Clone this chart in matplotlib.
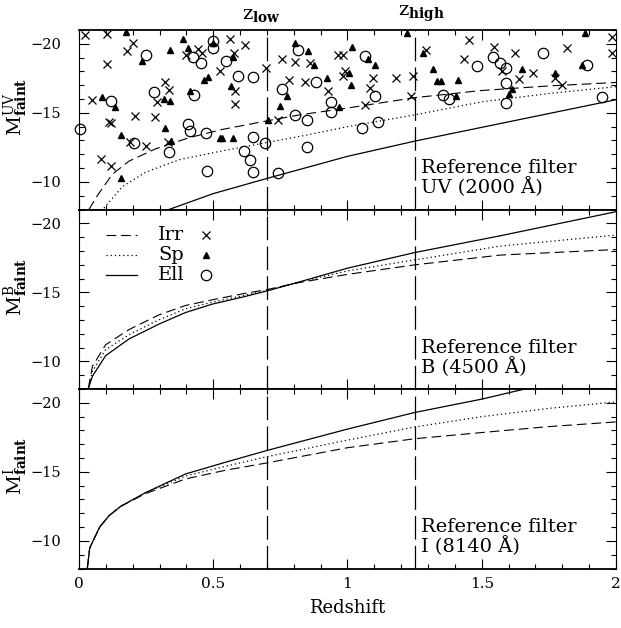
import matplotlib
matplotlib.use('Agg')
import matplotlib.pyplot as plt
from matplotlib.ticker import MultipleLocator, FixedLocator

plt.rcParams['font.family'] = ['DejaVu Serif']
plt.rcParams['mathtext.fontset'] = 'dejavuserif'
plt.rcParams['lines.scale_dashes'] = False

# ---------------- data ----------------
z_low, z_high = 0.7, 1.25

# UV panel limit curves
uv_irr_z = [0.037, 0.068, 0.124, 0.186, 0.286, 0.41, 0.534, 0.695, 0.82, 1.0, 1.25, 1.5, 1.75, 2.0]
uv_irr_m = [-8.0, -9.0, -10.55, -11.5, -12.4, -13.2, -13.8, -14.4, -14.85, -15.35, -16.1, -16.62, -16.95, -17.2]
uv_sp_z = [0.093, 0.161, 0.248, 0.372, 0.521, 0.7, 0.85, 1.0, 1.25, 1.5, 1.75, 2.0]
uv_sp_m = [-8.1, -9.65, -10.7, -11.6, -12.2, -12.85, -13.4, -14.0, -14.85, -15.8, -16.4, -16.9]
uv_ell_z = [0.335, 0.5, 0.7, 1.0, 1.25, 1.5, 1.75, 2.0]
uv_ell_m = [-8.0, -9.15, -10.25, -11.85, -12.95, -13.95, -14.95, -15.95]

# B panel limit curves
b_z = [0.035, 0.05, 0.099, 0.186, 0.298, 0.397, 0.497, 0.608, 0.7, 0.82, 1.0, 1.25, 1.57, 2.0]
b_irr_m = [-8.05, -9.64, -11.2, -12.3, -13.37, -14.05, -14.46, -14.89, -15.2, -15.71, -16.3, -16.99, -17.7, -18.1]
b_sp_m = [-8.05, -9.28, -10.85, -11.93, -13.01, -13.81, -14.29, -14.75, -15.13, -15.75, -16.55, -17.35, -18.35, -19.15]
b_ell_m = [-8.05, -8.92, -10.41, -11.62, -12.7, -13.54, -14.15, -14.65, -15.1, -15.75, -16.75, -17.88, -19.1, -20.84]

# I panel limit curves
i_z = [0.031, 0.04, 0.077, 0.112, 0.155, 0.248, 0.397, 0.546, 0.7, 1.0, 1.25, 1.5, 1.75, 2.0]
i_irr_m = [-8.0, -9.49, -11.0, -11.83, -12.5, -13.43, -14.49, -15.12, -15.65, -16.75, -17.4, -17.85, -18.28, -18.62]
i_sp_m = [-8.0, -9.49, -11.0, -11.83, -12.5, -13.48, -14.7, -15.41, -16.1, -17.3, -18.25, -19.0, -19.6, -20.07]
i_ell_z = [0.031, 0.04, 0.077, 0.112, 0.155, 0.248, 0.397, 0.546, 0.7, 1.0, 1.25, 1.5, 1.66]
i_ell_m = [-8.0, -9.49, -11.0, -11.83, -12.5, -13.5, -14.85, -15.7, -16.55, -18.1, -19.3, -20.27, -21.0]

# galaxies (UV panel)
irr_z = [0.022, 0.103, 0.202, 0.18, 0.103, 0.05, 0.113, 0.12, 0.209, 0.283, 0.082, 0.119, 0.19, 0.248,
         0.32, 0.335, 0.292, 0.33, 0.398, 0.444, 0.46,
         0.562, 0.618, 0.577, 0.525, 0.581, 0.581, 0.696, 0.755, 0.804, 0.86, 0.783, 0.842, 0.929,
         0.966, 0.982, 0.991, 0.984, 0.742,
         1.096, 1.179, 1.245, 1.084, 1.065, 1.237, 1.291, 1.452, 1.435,
         1.546, 1.624, 1.816, 1.984, 1.984, 1.574, 1.64, 1.69, 1.773, 1.798]
irr_m = [-20.65, -20.74, -20.09, -19.49, -18.53, -15.92, -14.36, -14.3, -14.8, -14.67, -11.66, -11.18, -12.87, -12.63,
         -17.2, -16.65, -15.76, -12.87, -19.2, -19.6, -19.35,
         -20.33, -19.93, -19.37, -18.05, -16.6, -15.64, -18.24, -18.89, -18.65, -18.58, -17.37, -17.2, -16.6,
         -19.2, -19.2, -18.05, -17.69, -14.48,
         -17.56, -17.51, -17.69, -16.79, -15.59, -16.19, -19.54, -20.29, -18.89,
         -19.78, -19.37, -19.68, -20.46, -19.3, -18.05, -17.44, -17.92, -17.51, -17.04]

sp_z = [0.174, 0.233, 0.084, 0.134, 0.156, 0.155, 0.338, 0.389, 0.407, 0.318, 0.339, 0.32, 0.344, 0.413, 0.466, 0.482,
        0.5, 0.575, 0.565, 0.525, 0.533, 0.572, 0.705, 0.749, 0.773, 0.804, 0.854, 0.875, 0.925, 0.97, 1.007, 1.012,
        1.016, 1.075, 1.102, 1.22, 1.282, 1.32, 1.332, 1.347, 1.41, 1.404,
        1.885, 1.651, 1.773, 1.614, 1.6, 1.872]
sp_m = [-20.89, -18.72, -16.17, -15.45, -13.42, -10.29, -19.54, -20.33, -19.73, -16.0, -15.83, -13.88, -12.99, -16.6, -17.37, -17.62,
        -20.05, -19.01, -16.97, -13.16, -13.16, -13.16, -14.48, -15.47, -16.24, -20.09, -19.49, -18.48, -17.51, -15.45, -17.9, -17.0,
        -19.8, -18.89, -18.48, -20.82, -19.3, -18.17, -17.33, -17.33, -17.4, -16.24,
        -20.77, -18.2, -17.88, -16.72, -16.4, -18.49]

ell_z = [0.004, 0.119, 0.206, 0.25, 0.28, 0.336, 0.405, 0.413, 0.429, 0.472, 0.476, 0.423, 0.453, 0.5, 0.498,
         0.548, 0.594, 0.649, 0.817, 0.755, 0.883, 0.937, 0.937, 0.804, 0.848, 0.649, 0.693, 0.616, 0.637, 0.647, 0.742, 0.85,
         1.065, 1.102, 1.115, 1.053, 1.354, 1.379, 1.483,
         1.541, 1.568, 1.59, 1.729, 1.893, 1.59, 1.59, 1.947]
ell_m = [-13.83, -15.83, -12.8, -19.2, -16.48, -12.15, -14.19, -13.71, -16.32, -13.54, -10.82, -19.06, -18.58, -20.17, -19.73,
         -18.77, -17.69, -17.62, -19.54, -16.72, -17.2, -15.76, -15.04, -14.87, -14.48, -13.23, -12.8, -12.22, -11.55, -10.75, -10.63, -12.56,
         -19.13, -16.19, -14.36, -13.9, -16.29, -16.0, -18.41,
         -19.08, -18.58, -18.28, -19.35, -18.49, -17.13, -15.72, -16.17]

xtick_vals = [0, 0.5, 1, 1.5, 2]
xtick_labels = ['0', '0.5', '1', '1.5', '2']
ytick_vals = [-10, -15, -20]
ytick_labels = ['\u221210', '\u221215', '\u221220']

ylabels = [r'$\mathrm{M}^{\mathrm{UV}}_{\mathbf{faint}}$',
           r'$\mathrm{M}^{\mathrm{B}}_{\mathbf{faint}}$',
           r'$\mathrm{M}^{\mathrm{I}}_{\mathbf{faint}}$']
filter_texts = ['Reference filter\nUV (2000 \u00c5)',
                'Reference filter\nB (4500 \u00c5)',
                'Reference filter\nI (8140 \u00c5)']
legend_names = ['Irr', 'Sp', 'Ell']

# ---------------- styles ----------------
irr_style = dict(color='black', lw=0.8, dashes=(7, 3.5))
sp_style = dict(color='black', lw=0.9, dashes=(0.9, 2.1))
ell_style = dict(color='black', lw=0.9)
vline_style = dict(color='black', lw=0.9, dashes=(17, 4.5))

fig = plt.figure(figsize=(6.21, 6.28), dpi=100)
L, W, H = 0.1272, 0.8647, 0.2858
bottoms = [0.6664, 0.3806, 0.0947]
axes = [fig.add_axes([L, b, W, H]) for b in bottoms]

curves = [
    [(uv_irr_z, uv_irr_m, irr_style), (uv_sp_z, uv_sp_m, sp_style), (uv_ell_z, uv_ell_m, ell_style)],
    [(b_z, b_irr_m, irr_style), (b_z, b_sp_m, sp_style), (b_z, b_ell_m, ell_style)],
    [(i_z, i_irr_m, irr_style), (i_z, i_sp_m, sp_style), (i_ell_z, i_ell_m, ell_style)],
]

for k, ax in enumerate(axes):
    ax.set_xlim(0, 2)
    ax.set_ylim(-8, -21)
    for zz, mm, st in curves[k]:
        ax.plot(zz, mm, **st)
    ax.axvline(z_low, **vline_style)
    ax.axvline(z_high, **vline_style)
    ax.xaxis.set_major_locator(FixedLocator(xtick_vals))
    ax.xaxis.set_minor_locator(MultipleLocator(0.1))
    ax.yaxis.set_major_locator(FixedLocator(ytick_vals))
    ax.yaxis.set_minor_locator(MultipleLocator(1))
    ax.set_yticklabels(ytick_labels)
    ax.tick_params(which='both', direction='in', top=True, right=True, width=0.8)
    ax.tick_params(which='major', length=7, labelsize=10.5, pad=13)
    ax.tick_params(which='minor', length=3.5)
    ax.tick_params(axis='x', which='major', pad=6, labelsize=11)
    for s in ['left', 'right']:
        ax.spines[s].set_linewidth(0.8)
    for s in ['top', 'bottom']:
        ax.spines[s].set_linewidth(1.3)
    if k < 2:
        ax.set_xticklabels([])
    else:
        ax.set_xticklabels(xtick_labels)
        ax.set_xlabel('Redshift', fontsize=13, labelpad=6)
    ax.set_ylabel(ylabels[k], fontsize=14)
    ax.yaxis.set_label_coords(-0.092, 0.57)
    ax.text(1.273, 0.068, filter_texts[k], transform=ax.get_xaxis_transform(),
            fontsize=14, ha='left', va='bottom', linespacing=1.0)

ax1 = axes[0]
ax1.plot(irr_z, irr_m, ls='none', marker='x', ms=5.5, mew=0.9, color='black', clip_on=False)
ax1.plot(sp_z, sp_m, ls='none', marker='^', ms=4.2, color='black', clip_on=False)
ax1.plot(ell_z, ell_m, ls='none', marker='o', ms=7.5, mew=0.9, mfc='none', mec='black', clip_on=False)

ax1.text(z_low - 0.02, 1.035, r'$\mathrm{z}_{\mathbf{low}}$', transform=ax1.get_xaxis_transform(),
         ha='center', va='bottom', fontsize=14)
ax1.text(z_high + 0.027, 1.035, r'$\mathrm{z}_{\mathbf{high}}$', transform=ax1.get_xaxis_transform(),
         ha='center', va='bottom', fontsize=14)

# legend in middle panel
ax2 = axes[1]
rows = [0.858, 0.747, 0.635]
styles = [irr_style, sp_style, ell_style]
marks = [dict(marker='x', ms=5.5, mew=0.9, color='black'),
         dict(marker='^', ms=4.2, color='black'),
         dict(marker='o', ms=7.5, mew=0.9, mfc='none', mec='black')]
for yy, name, st, mk in zip(rows, legend_names, styles, marks):
    ax2.plot([0.05, 0.108], [yy, yy], transform=ax2.transAxes, **st)
    ax2.text(0.147, yy, name, transform=ax2.transAxes, fontsize=14, va='center', ha='left')
    ax2.plot([0.2365], [yy], transform=ax2.transAxes, ls='none', **mk)

fig.savefig('out.png', dpi=100)
